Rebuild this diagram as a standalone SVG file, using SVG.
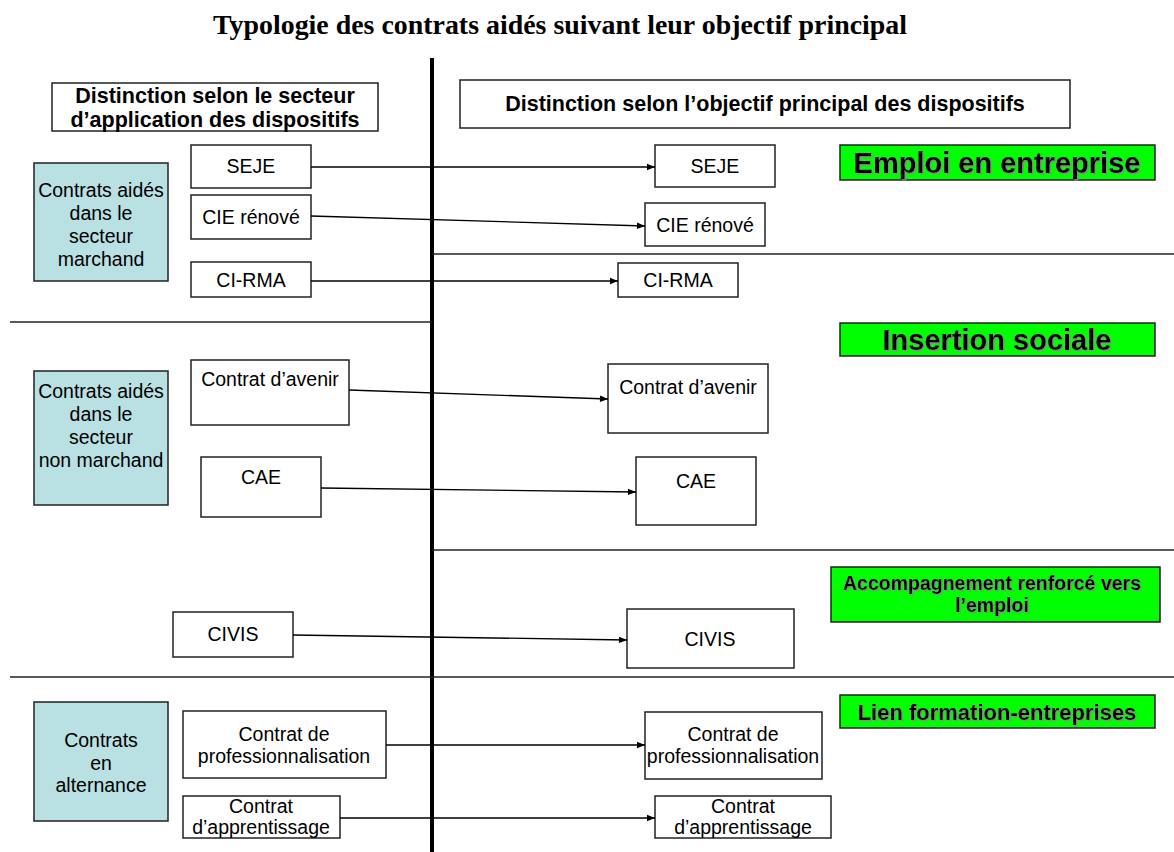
<svg xmlns="http://www.w3.org/2000/svg" width="1174" height="852" viewBox="0 0 1174 852">
  <style>
    .title { font-family: "Liberation Serif", serif; font-weight: bold; font-size: 27px; fill: #000; }
    .box { fill: #fff; stroke: #222; stroke-width: 1.5; }
    .sector { fill: #b9e0e2; stroke: #222; stroke-width: 1.5; }
    .goal { fill: #00ff00; stroke: #222; stroke-width: 1.5; }
    .t { font-family: "Liberation Sans", Arial, sans-serif; font-size: 19.5px; fill: #000; text-anchor: middle; }
    .hdr { font-family: "Liberation Sans", Arial, sans-serif; font-weight: bold; font-size: 21.5px; fill: #000; text-anchor: middle; }
    .gt { font-family: "Liberation Sans", Arial, sans-serif; font-weight: bold; fill: #000; text-anchor: middle; filter: url(#shadow); }
    .sep { stroke: #222; stroke-width: 1.3; fill: none; }
    .conn { stroke: #000; stroke-width: 1.3; fill: none; marker-end: url(#arrow); }
  </style>
  <defs>
    <marker id="arrow" viewBox="0 0 10 10" refX="10" refY="5" markerWidth="9" markerHeight="8" markerUnits="userSpaceOnUse" orient="auto">
      <path d="M0,1 L10,5 L0,9 z" fill="#000"/>
    </marker>
    <filter id="shadow" x="-10%" y="-20%" width="120%" height="150%">
      <feDropShadow dx="1.5" dy="1.5" stdDeviation="0.4" flood-color="#8a8a8a" flood-opacity="0.9"/>
    </filter>
  </defs>

  <rect width="1174" height="852" fill="#fff"/>

  <text class="title" x="560" y="34" text-anchor="middle" textLength="694" lengthAdjust="spacingAndGlyphs">Typologie des contrats aidés suivant leur objectif principal</text>

  <!-- separators -->
  <g id="separators">
    <line x1="432" y1="58" x2="432" y2="852" stroke="#000" stroke-width="4"/>
    <line class="sep" x1="432" y1="254" x2="1174" y2="254"/>
    <line class="sep" x1="10" y1="322" x2="432" y2="322"/>
    <line class="sep" x1="432" y1="550" x2="1174" y2="550"/>
    <line class="sep" x1="10" y1="677" x2="1174" y2="677"/>
  </g>

  <!-- column headers -->
  <g id="header-left">
    <rect class="box" x="52" y="83" width="326" height="48"/>
    <text class="hdr" x="215" y="103">Distinction selon le secteur</text>
    <text class="hdr" x="215" y="127">d’application des dispositifs</text>
  </g>
  <g id="header-right">
    <rect class="box" x="460" y="80" width="610" height="48"/>
    <text class="hdr" x="765" y="111">Distinction selon l’objectif principal des dispositifs</text>
  </g>

  <!-- sectors -->
  <g id="sector-marchand">
    <rect class="sector" x="34" y="163" width="134" height="118"/>
    <text class="t" x="101" y="197">Contrats aidés</text>
    <text class="t" x="101" y="220">dans le</text>
    <text class="t" x="101" y="243">secteur</text>
    <text class="t" x="101" y="266">marchand</text>
  </g>
  <g id="sector-non-marchand">
    <rect class="sector" x="34" y="371" width="134" height="134"/>
    <text class="t" x="101" y="398">Contrats aidés</text>
    <text class="t" x="101" y="421">dans le</text>
    <text class="t" x="101" y="444">secteur</text>
    <text class="t" x="101" y="467">non marchand</text>
  </g>
  <g id="sector-alternance">
    <rect class="sector" x="34" y="702" width="134" height="119"/>
    <text class="t" x="101" y="747">Contrats</text>
    <text class="t" x="101" y="770">en</text>
    <text class="t" x="101" y="792">alternance</text>
  </g>

  <!-- objectives -->
  <g id="goal-emploi">
    <rect class="goal" x="840" y="145" width="315" height="35"/>
    <text class="gt" x="997" y="173" font-size="29">Emploi en entreprise</text>
  </g>
  <g id="goal-insertion">
    <rect class="goal" x="840" y="323" width="315" height="33"/>
    <text class="gt" x="997" y="350" font-size="29">Insertion sociale</text>
  </g>
  <g id="goal-accompagnement">
    <rect class="goal" x="831" y="567" width="329" height="55"/>
    <text class="gt" x="992" y="590" font-size="19.5">Accompagnement renforcé vers</text>
    <text class="gt" x="992" y="612" font-size="19.5">l’emploi</text>
  </g>
  <g id="goal-formation">
    <rect class="goal" x="840" y="695" width="315" height="33"/>
    <text class="gt" x="997" y="720" font-size="22">Lien formation-entreprises</text>
  </g>

  <!-- schemes, by sector -->
  <g id="seje-l">
    <rect class="box" x="191" y="145" width="120" height="43"/>
    <text class="t" x="251" y="173">SEJE</text>
  </g>
  <g id="cie-l">
    <rect class="box" x="191" y="195" width="120" height="44"/>
    <text class="t" x="251" y="224">CIE rénové</text>
  </g>
  <g id="cirma-l">
    <rect class="box" x="191" y="262" width="120" height="35"/>
    <text class="t" x="251" y="287">CI-RMA</text>
  </g>
  <g id="avenir-l">
    <rect class="box" x="191" y="360" width="158" height="65"/>
    <text class="t" x="270" y="386">Contrat d’avenir</text>
  </g>
  <g id="cae-l">
    <rect class="box" x="201" y="457" width="120" height="60"/>
    <text class="t" x="261" y="484">CAE</text>
  </g>
  <g id="civis-l">
    <rect class="box" x="173" y="612" width="120" height="45"/>
    <text class="t" x="233" y="641">CIVIS</text>
  </g>
  <g id="pro-l">
    <rect class="box" x="183" y="711" width="203" height="67"/>
    <text class="t" x="284" y="741">Contrat de</text>
    <text class="t" x="284" y="763">professionnalisation</text>
  </g>
  <g id="appr-l">
    <rect class="box" x="183" y="796" width="157" height="42"/>
    <text class="t" x="261" y="813">Contrat</text>
    <text class="t" x="261" y="834">d’apprentissage</text>
  </g>

  <!-- schemes, by objective -->
  <g id="seje-r">
    <rect class="box" x="655" y="145" width="120" height="42"/>
    <text class="t" x="715" y="173">SEJE</text>
  </g>
  <g id="cie-r">
    <rect class="box" x="645" y="203" width="120" height="43"/>
    <text class="t" x="705" y="232">CIE rénové</text>
  </g>
  <g id="cirma-r">
    <rect class="box" x="618" y="263" width="120" height="34"/>
    <text class="t" x="678" y="287">CI-RMA</text>
  </g>
  <g id="avenir-r">
    <rect class="box" x="608" y="364" width="160" height="69"/>
    <text class="t" x="688" y="394">Contrat d’avenir</text>
  </g>
  <g id="cae-r">
    <rect class="box" x="636" y="457" width="120" height="68"/>
    <text class="t" x="696" y="488">CAE</text>
  </g>
  <g id="civis-r">
    <rect class="box" x="627" y="609" width="167" height="59"/>
    <text class="t" x="710" y="646">CIVIS</text>
  </g>
  <g id="pro-r">
    <rect class="box" x="645" y="712" width="177" height="67"/>
    <text class="t" x="733" y="741">Contrat de</text>
    <text class="t" x="733" y="763">professionnalisation</text>
  </g>
  <g id="appr-r">
    <rect class="box" x="655" y="796" width="176" height="42"/>
    <text class="t" x="743" y="813">Contrat</text>
    <text class="t" x="743" y="834">d’apprentissage</text>
  </g>

  <!-- connectors -->
  <g id="connectors">
    <line class="conn" x1="311" y1="167" x2="655" y2="167"/>
    <line class="conn" x1="311" y1="216" x2="645" y2="226"/>
    <line class="conn" x1="311" y1="281" x2="618" y2="281"/>
    <line class="conn" x1="349" y1="390" x2="608" y2="399"/>
    <line class="conn" x1="321" y1="488" x2="636" y2="492"/>
    <line class="conn" x1="293" y1="635" x2="627" y2="640"/>
    <line class="conn" x1="386" y1="745" x2="645" y2="745"/>
    <line class="conn" x1="340" y1="818" x2="655" y2="818"/>
  </g>
</svg>
